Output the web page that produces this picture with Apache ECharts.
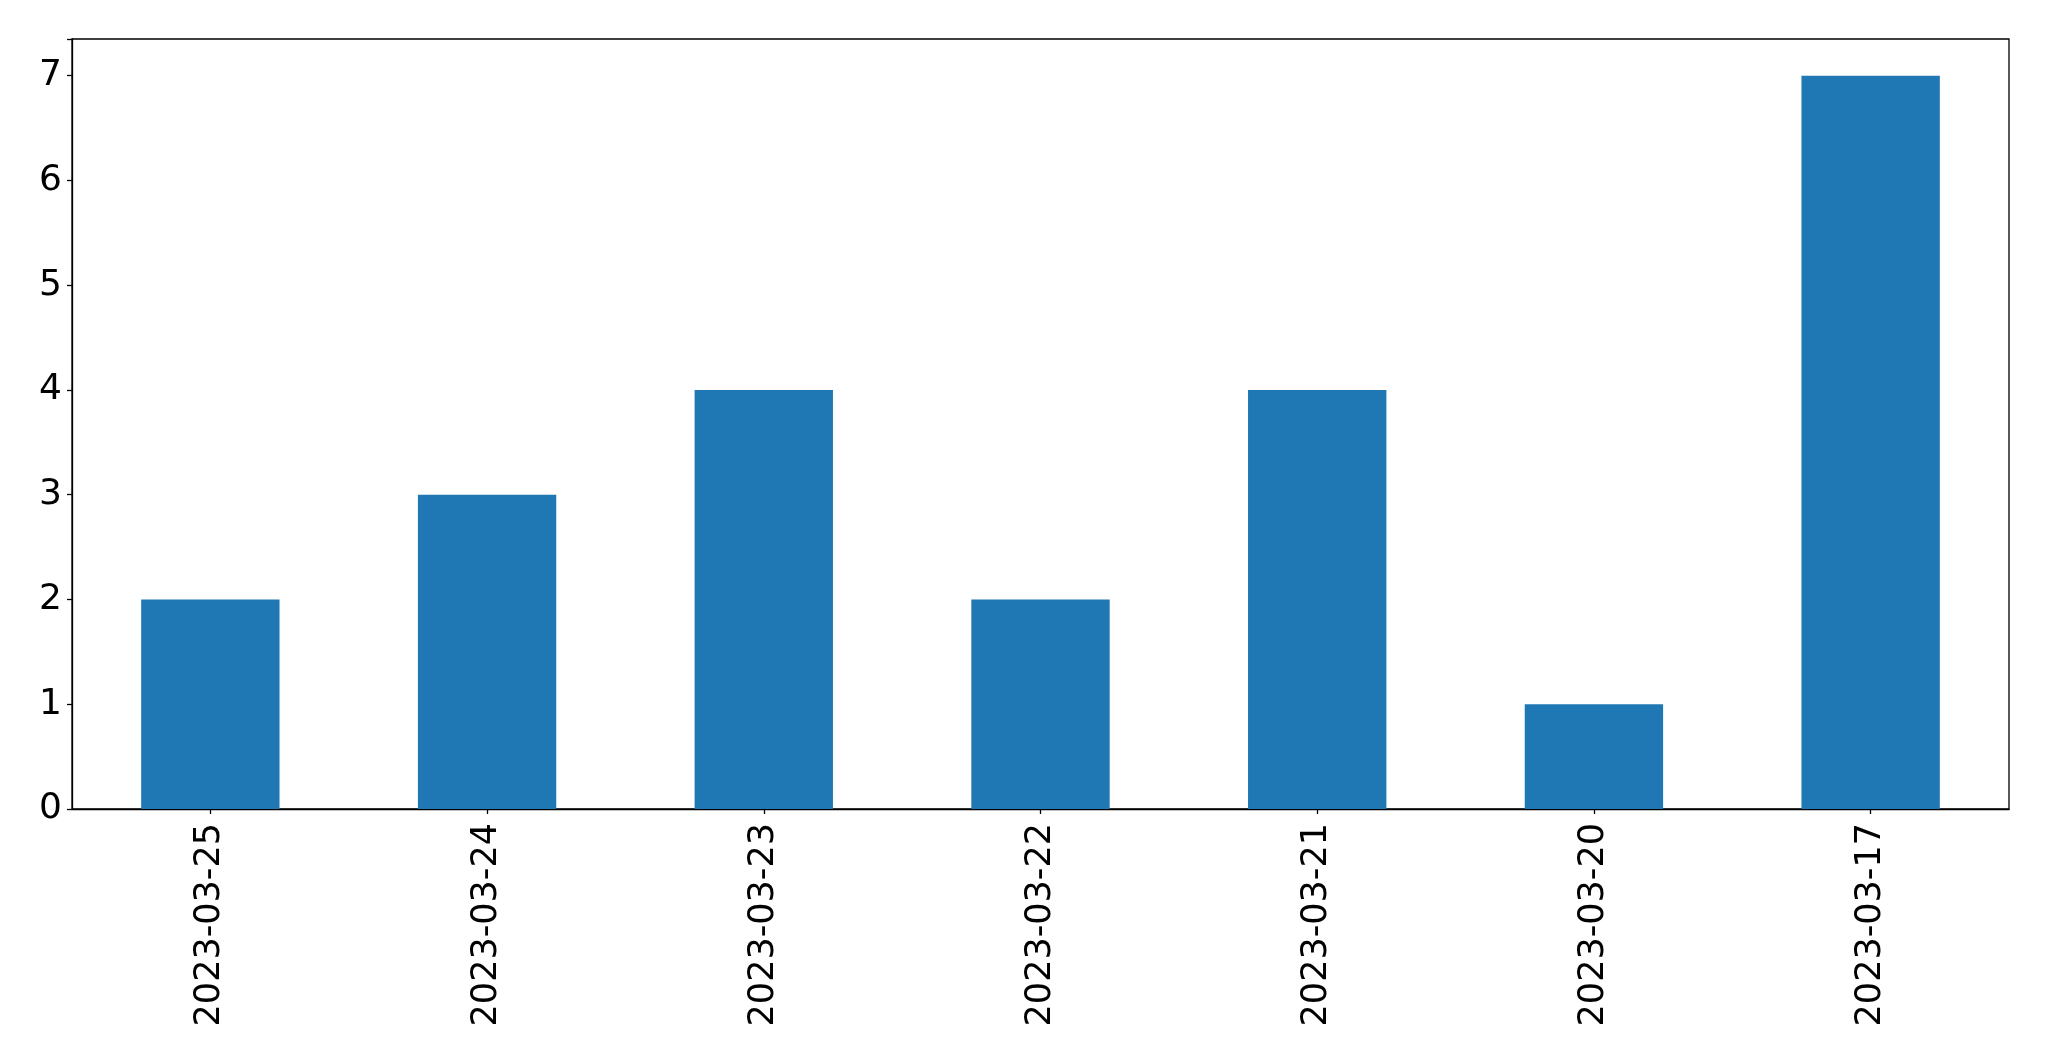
<!DOCTYPE html>
<html>
<head>
<meta charset="utf-8">
<script src="https://cdn.jsdelivr.net/npm/echarts@6/dist/echarts.min.js"></script>
<style>
  html, body { margin: 0; padding: 0; background: #fff; }
  #chart { width: 2049px; height: 1061px; }
</style>
</head>
<body>
<div id="chart"></div>
<script>
const dates = ['2023-03-25', '2023-03-24', '2023-03-23', '2023-03-22', '2023-03-21', '2023-03-20', '2023-03-17']
const counts = [2, 3, 4, 2, 4, 1, 7]
const yTicks = [0, 1, 2, 3, 4, 5, 6, 7]

const font = 'DejaVu Sans'

let myChart = echarts.init(document.getElementById('chart'))
myChart.setOption({
  animation: false,
  grid: {
    left: 72,
    right: 40,
    top: 39,
    bottom: 252,
    show: true,
    borderColor: '#000',
    borderWidth: 1.3,
    backgroundColor: 'transparent'
  },
  xAxis: {
    type: 'category',
    data: dates,
    boundaryGap: true,
    axisLine: { show: true, lineStyle: { color: '#000', width: 1.3 } },
    axisTick: { show: true, alignWithLabel: true, length: 5, lineStyle: { color: '#000', width: 1.3 } },
    axisLabel: {
      rotate: 90,
      interval: 0,
      margin: 14,
      color: '#000',
      fontFamily: font,
      fontSize: 35
    }
  },
  yAxis: {
    type: 'value',
    min: 0,
    max: 7.35,
    interval: 1,
    splitLine: { show: false },
    axisLine: { show: true, lineStyle: { color: '#000', width: 1.3 } },
    axisTick: { show: true, length: 5, lineStyle: { color: '#000', width: 1.3 } },
    axisLabel: {
      margin: 10,
      color: '#000',
      fontFamily: font,
      fontSize: 36,
      padding: [9, 0, 0, 0],
      formatter: function (v) {
        return yTicks.indexOf(v) >= 0 ? String(v) : ''
      }
    }
  },
  series: [{
    type: 'bar',
    data: counts,
    barWidth: '50%',
    itemStyle: { color: '#1f77b4' }
  }]
})
window.addEventListener('resize', function () {
  myChart.resize()
})
</script>
</body>
</html>
